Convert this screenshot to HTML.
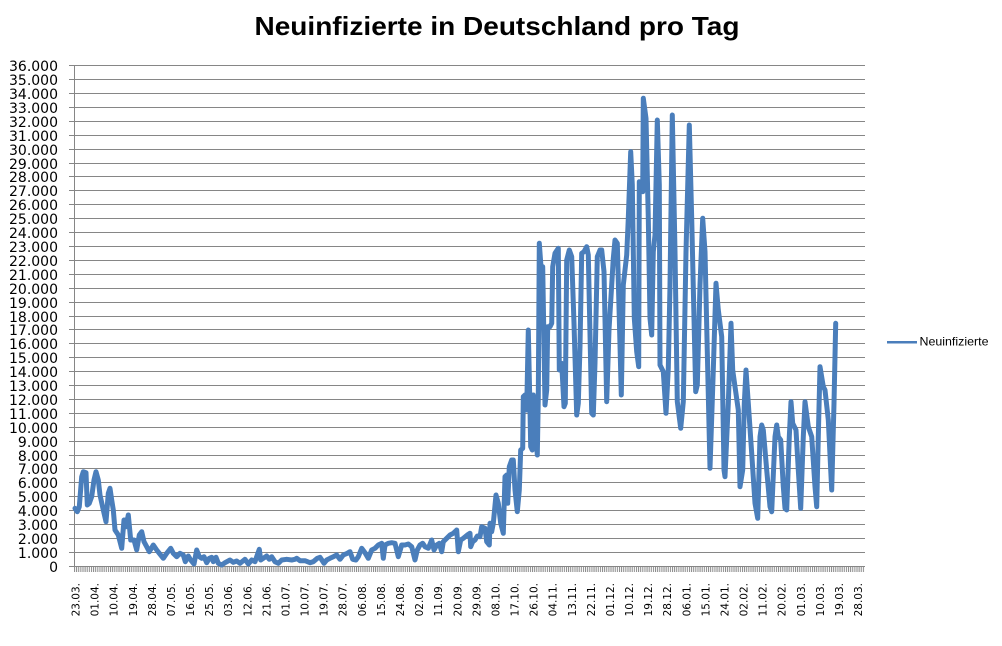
<!DOCTYPE html>
<html><head><meta charset="utf-8"><style>
html,body{margin:0;padding:0;background:#fff;}
svg{display:block;}
</style></head><body>
<svg width="1002" height="646" viewBox="0 0 1002 646" xmlns="http://www.w3.org/2000/svg">
<defs>
<pattern id="tk" x="74" y="0" width="2.1206" height="10" patternUnits="userSpaceOnUse"><rect x="0" y="0" width="1" height="10" fill="#868686"/></pattern>
</defs>
<rect width="1002" height="646" fill="#fff"/>
<text x="497" y="35" text-anchor="middle" font-family="Liberation Sans, sans-serif" font-weight="bold" font-size="26" textLength="485" lengthAdjust="spacingAndGlyphs" fill="#000">Neuinfizierte in Deutschland pro Tag</text>
<g stroke="#868686" stroke-width="1" fill="none">
<path d="M69 566.5H865M69 552.5H865M69 538.5H865M69 524.5H865M69 510.5H865M69 496.5H865M69 482.5H865M69 468.5H865M69 455.5H865M69 441.5H865M69 427.5H865M69 413.5H865M69 399.5H865M69 385.5H865M69 371.5H865M69 357.5H865M69 343.5H865M69 329.5H865M69 316.5H865M69 302.5H865M69 288.5H865M69 274.5H865M69 260.5H865M69 246.5H865M69 232.5H865M69 218.5H865M69 204.5H865M69 190.5H865M69 176.5H865M69 163.5H865M69 149.5H865M69 135.5H865M69 121.5H865M69 107.5H865M69 93.5H865M69 79.5H865M69 65.5H865"/>
<path d="M74.5 65V567"/>
</g>
<rect x="74" y="567" width="791" height="5" fill="url(#tk)"/>
<g font-family="DejaVu Sans, sans-serif" font-size="14" text-anchor="end" fill="#000">
<text x="58" y="572">0</text>
<text x="58" y="558">1.000</text>
<text x="58" y="544">2.000</text>
<text x="58" y="530">3.000</text>
<text x="58" y="516">4.000</text>
<text x="58" y="502">5.000</text>
<text x="58" y="488">6.000</text>
<text x="58" y="474">7.000</text>
<text x="58" y="461">8.000</text>
<text x="58" y="447">9.000</text>
<text x="58" y="433">10.000</text>
<text x="58" y="419">11.000</text>
<text x="58" y="405">12.000</text>
<text x="58" y="391">13.000</text>
<text x="58" y="377">14.000</text>
<text x="58" y="363">15.000</text>
<text x="58" y="349">16.000</text>
<text x="58" y="335">17.000</text>
<text x="58" y="322">18.000</text>
<text x="58" y="308">19.000</text>
<text x="58" y="294">20.000</text>
<text x="58" y="280">21.000</text>
<text x="58" y="266">22.000</text>
<text x="58" y="252">23.000</text>
<text x="58" y="238">24.000</text>
<text x="58" y="224">25.000</text>
<text x="58" y="210">26.000</text>
<text x="58" y="196">27.000</text>
<text x="58" y="182">28.000</text>
<text x="58" y="169">29.000</text>
<text x="58" y="155">30.000</text>
<text x="58" y="141">31.000</text>
<text x="58" y="127">32.000</text>
<text x="58" y="113">33.000</text>
<text x="58" y="99">34.000</text>
<text x="58" y="85">35.000</text>
<text x="58" y="71">36.000</text>
</g>
<g font-family="DejaVu Sans, sans-serif" font-size="10.5" text-anchor="end" fill="#000">
<text transform="translate(79.6,583) rotate(-90)">23.03.</text>
<text transform="translate(98.6,583) rotate(-90)">01.04.</text>
<text transform="translate(117.7,583) rotate(-90)">10.04.</text>
<text transform="translate(136.8,583) rotate(-90)">19.04.</text>
<text transform="translate(155.9,583) rotate(-90)">28.04.</text>
<text transform="translate(175,583) rotate(-90)">07.05.</text>
<text transform="translate(194.1,583) rotate(-90)">16.05.</text>
<text transform="translate(213.2,583) rotate(-90)">25.05.</text>
<text transform="translate(232.2,583) rotate(-90)">03.06.</text>
<text transform="translate(251.3,583) rotate(-90)">12.06.</text>
<text transform="translate(270.4,583) rotate(-90)">21.06.</text>
<text transform="translate(289.5,583) rotate(-90)">01.07.</text>
<text transform="translate(308.6,583) rotate(-90)">10.07.</text>
<text transform="translate(327.7,583) rotate(-90)">19.07.</text>
<text transform="translate(346.7,583) rotate(-90)">28.07.</text>
<text transform="translate(365.8,583) rotate(-90)">06.08.</text>
<text transform="translate(384.9,583) rotate(-90)">15.08.</text>
<text transform="translate(404,583) rotate(-90)">24.08.</text>
<text transform="translate(423.1,583) rotate(-90)">02.09.</text>
<text transform="translate(442.2,583) rotate(-90)">11.09.</text>
<text transform="translate(461.3,583) rotate(-90)">20.09.</text>
<text transform="translate(480.3,583) rotate(-90)">29.09.</text>
<text transform="translate(499.4,583) rotate(-90)">08.10.</text>
<text transform="translate(518.5,583) rotate(-90)">17.10.</text>
<text transform="translate(537.6,583) rotate(-90)">26.10.</text>
<text transform="translate(556.7,583) rotate(-90)">04.11.</text>
<text transform="translate(575.8,583) rotate(-90)">13.11.</text>
<text transform="translate(594.9,583) rotate(-90)">22.11.</text>
<text transform="translate(613.9,583) rotate(-90)">01.12.</text>
<text transform="translate(633,583) rotate(-90)">10.12.</text>
<text transform="translate(652.1,583) rotate(-90)">19.12.</text>
<text transform="translate(671.2,583) rotate(-90)">28.12.</text>
<text transform="translate(690.3,583) rotate(-90)">06.01.</text>
<text transform="translate(709.4,583) rotate(-90)">15.01.</text>
<text transform="translate(728.4,583) rotate(-90)">24.01.</text>
<text transform="translate(747.5,583) rotate(-90)">02.02.</text>
<text transform="translate(766.6,583) rotate(-90)">11.02.</text>
<text transform="translate(785.7,583) rotate(-90)">20.02.</text>
<text transform="translate(804.8,583) rotate(-90)">01.03.</text>
<text transform="translate(823.9,583) rotate(-90)">10.03.</text>
<text transform="translate(843,583) rotate(-90)">19.03.</text>
<text transform="translate(862.1,583) rotate(-90)">28.03.</text>
</g>
<polyline fill="none" stroke="#4A7EBB" stroke-width="5" stroke-linejoin="round" stroke-linecap="round" points="75,508.3 77.3,511.7 79.3,506.7 81.7,476.7 83.3,471.7 86,472.7 87.3,505 89.3,503.3 91.7,496.7 94,480 96,471.7 98.3,480 100,495 103.3,510 106,521.7 108.3,493.3 110,488.3 111.7,500 113.3,510 115,530 118.3,535 121.7,548.3 124,520 126,526.7 128.3,515 130.7,540 134,540 136.7,550 139.3,535 141.7,531.7 144,541.7 146.7,546.7 149.3,551.7 153.3,545 156.7,550 159.3,553.3 163.3,558.3 166.7,553.3 170.7,548.3 173.3,553.3 176.7,556.7 180,553.3 183.3,555 185.3,561.7 188.3,556 190.7,560 194,564 196.7,550 199.3,556.7 201.7,558.3 204,556.7 206.7,562.7 209.3,558.3 211.7,557.3 213.3,561.7 216,557.3 218.3,563.3 221.7,565 225,562.7 230,560 233.3,562.3 236.7,561 240,563.3 245,559.3 248.3,564 251.7,560 255,561.7 256.7,556.7 259.3,549.3 260.7,560 263.3,558.3 266.7,556 269.3,559.3 271.7,556.7 275,561.7 278.3,563.3 281.7,560 286.7,559.3 291.7,560 295,559.3 296.7,558.3 300,560.7 305,560.7 310,562.7 313.3,561.7 317.3,558.3 320,557.3 324,563.3 326.7,560 330,558.3 333.3,556.7 336.7,555 340,559.3 343.3,555 347.3,553.3 350,551.7 352.7,559.3 356,560 358.3,556.7 361.7,548.3 365,552.7 368.3,558.3 371.7,550 375,548.3 378.3,545 381.7,543.3 383.3,558.3 385,545 388.3,543.3 391.7,542.7 395,543.3 398.3,556.7 401.7,545 405,545 408.3,544 411.7,546.7 415,560 417.3,550 420,545 422.7,543.3 425,546.7 428.3,548.3 431.7,540 434,550 436.7,545 439.3,543.3 441.7,551.7 443.3,541.7 446.7,538.3 450,535 453.3,533.3 456.7,530 458.3,551.7 460.7,540 463.3,538.3 467.3,535 470,533.3 470.7,546.7 472.7,541.7 475,540 477.3,536 480,536.7 481.7,526.7 485,528.3 486.7,541.7 489.3,545 490,523.3 491.7,531.7 493.3,523.3 496,495 498.3,503.3 500.7,523.3 503.3,533.3 505,476.7 506.7,475 507.7,503.3 509.3,466.7 511.7,460 513.3,460 515,490 517.3,511.7 519.3,490 520.7,450 522.7,448.3 523.3,396.7 525,395 526.7,410 528.3,330 530,410 530.7,446.7 532.3,450 533.3,395 535,423.3 537.3,455 538.3,396.7 539.3,243.3 541,266.7 542.7,266.7 545,405 546.7,390 547.7,326.7 550,326.7 551.7,323.3 552.7,266.7 555,253.3 558.3,248.3 559.3,370 561.7,363.3 564,406.7 565.3,403.3 566.7,260 569.3,250 571.7,256.7 574,323.3 576.7,415 578.3,403.3 580,346.7 581.7,253.3 584,251.7 586.7,246.7 588.3,255 591.7,413.3 593.3,415 595,363.3 597.3,256.7 600,250 601.7,250 604,271.7 606.7,401.7 609,330 613.3,258.3 615,240 617.3,243.3 619.3,318.3 621.3,395 623.3,285 626.7,255 628.3,218.3 630.7,151.7 632.3,185 634.3,318.3 636.7,351.7 638.7,366.7 639.3,181.7 641.3,185 642.7,191.7 643.3,98.3 646,118.3 648.3,218.3 650,318.3 651.7,335 653.3,251.7 655,235 657.3,120 659.3,185 660,365 663.3,371.7 666,413.3 668.3,368.3 670,285 672.3,115 675,251.7 677.3,401.7 680.7,428.3 683.3,401.7 686,251.7 689.3,125 691.7,218.3 694,318.3 695.7,391.7 697.3,385 700,285 702.7,218.3 705,251.7 707.3,351.7 710,468.3 713.3,370 716,283.3 718.3,310 721.7,336.7 724,470 725,476.7 728.3,403.3 731,323.3 732.7,370 735,386.7 738.3,410 740,486.7 742.7,470 744.3,403.3 746,370 748.3,403.3 751.7,453.3 755,503.3 757.7,518.3 760,436.7 761.7,425 763.3,430 766.7,470 770,506.7 771.7,511.7 775,436.7 776.7,425 778.3,436.7 780.7,440 783.3,486.7 785,508.3 786.7,510 789.3,436.7 791,401.7 792.7,423.3 796,430 798.3,470 800.7,508.3 803.3,436.7 805,401.7 808.3,426.7 811.7,436.7 815,486.7 816.7,506.7 818.3,436.7 820,366.7 823.3,386.7 825,390 828.3,420 831.7,490 834,403.3 835.7,323.3"/>
<line x1="887" y1="342.3" x2="917" y2="342.3" stroke="#4A7EBB" stroke-width="2.5"/>
<text x="919.5" y="345.7" font-family="Liberation Sans, sans-serif" font-size="12" textLength="69" lengthAdjust="spacingAndGlyphs" fill="#000">Neuinfizierte</text>
</svg>
</body></html>
